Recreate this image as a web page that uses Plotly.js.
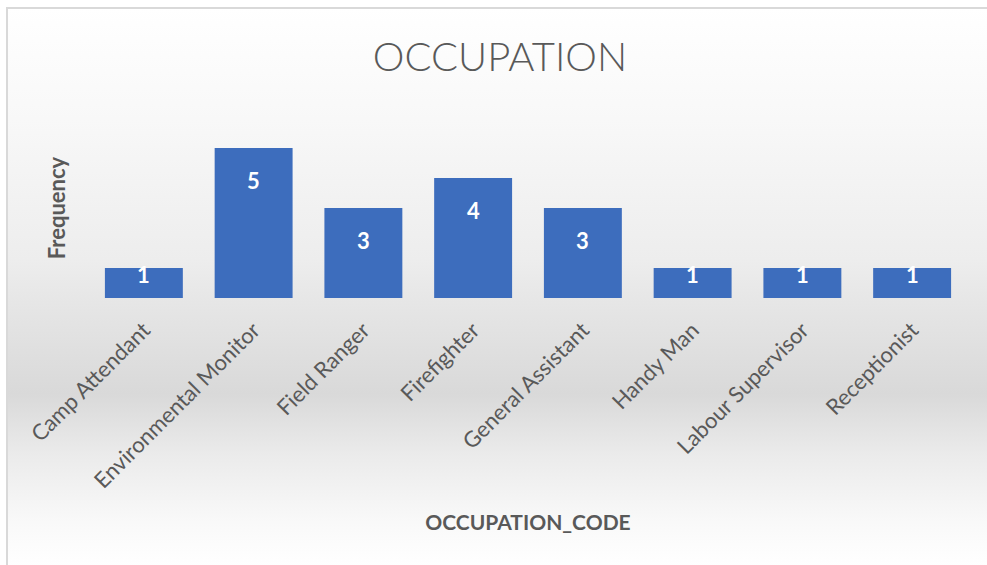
<!DOCTYPE html>
<html>
<head>
<meta charset="utf-8">
<script src="https://cdn.plot.ly/plotly-3.0.1.min.js"></script>
<style>html,body{margin:0;padding:0;background:#fff;}#chart{width:987px;height:565px;}</style>
</head>
<body>
<div id="chart"></div>
<script>
// ---- data ----
const categories = ["Camp Attendant", "Environmental Monitor", "Field Ranger", "Firefighter",
                    "General Assistant", "Handy Man", "Labour Supervisor", "Receptionist"];
const frequency = [1, 5, 3, 4, 3, 1, 1, 1];
const chartTitle = "OCCUPATION";
const xTitle = "OCCUPATION_CODE";
const yTitle = "Frequency";

// ---- layout geometry ----
const W = 987, H = 565;
const M = {l: 89, r: 20, t: 118, b: 267};
const yMax = 6;
const plotW = W - M.l - M.r, plotH = H - M.t - M.b;
const pxPerUnit = plotH / yMax;
const toPX = px => (px - M.l) / plotW;          // pixel x -> paper x
const toPY = py => (H - M.b - py) / plotH;      // pixel y -> paper y

// background gradient (Excel style) as an SVG image
const bgSvg = `<svg xmlns="http://www.w3.org/2000/svg" width="980" height="557" preserveAspectRatio="none">
<defs><linearGradient id="g" x1="0" y1="0" x2="0" y2="1">
<stop offset="0" stop-color="#ffffff"/>
<stop offset="0.2" stop-color="#f8f8f8"/>
<stop offset="0.45" stop-color="#ededed"/>
<stop offset="0.54" stop-color="#e5e5e5"/>
<stop offset="0.69" stop-color="#d9d9d9"/>
<stop offset="0.8" stop-color="#ebebeb"/>
<stop offset="0.92" stop-color="#f9f9f9"/>
<stop offset="1" stop-color="#ffffff"/>
</linearGradient></defs>
<rect x="0" y="0" width="980" height="557" fill="url(#g)"/></svg>`;
const bgURI = "data:image/svg+xml;base64," + btoa(bgSvg);

const barTrace = {
  type: "bar",
  x: categories,
  y: frequency,
  marker: {color: "#3d6dbd", line: {width: 0}},
  hoverinfo: "x+y",
  showlegend: false
};

const FONT = "Lato, 'Open Sans', sans-serif";

const labelAnnotations = categories.map((c, i) => ({
  x: c, y: frequency[i], xref: "x", yref: "y",
  text: String(frequency[i]),
  showarrow: false,
  yanchor: "middle",
  yshift: -Math.min(32, frequency[i] * pxPerUnit - 24),
  font: {family: FONT, size: 22, color: "#ffffff", weight: "bold"}
}));

const layout = {
  width: W, height: H,
  margin: M,
  paper_bgcolor: "#ffffff",
  plot_bgcolor: "rgba(0,0,0,0)",
  bargap: 0.29,
  title: {
    text: chartTitle,
    x: 500 / W, xref: "container", xanchor: "center",
    y: 1 - 57 / H, yref: "container", yanchor: "middle",
    font: {family: FONT, size: 40, color: "#595959", weight: 300}
  },
  xaxis: {
    type: "category",
    range: [-0.5, categories.length - 0.5],
    tickangle: -45,
    showgrid: false, zeroline: false, showline: false, ticks: "",
    ticklabelstandoff: 14,
    tickfont: {family: FONT, size: 22, color: "#595959"},
    automargin: false,
    title: {
      text: xTitle, standoff: 23,
      font: {family: FONT, size: 21, color: "#595959", weight: "bold"}
    }
  },
  yaxis: {
    range: [0, yMax],
    showticklabels: false, showgrid: false, zeroline: false, showline: false, ticks: "",
    automargin: false,
    title: {
      text: yTitle, standoff: 16,
      font: {family: FONT, size: 22, color: "#595959", weight: "bold"}
    }
  },
  images: [{
    source: bgURI, xref: "paper", yref: "paper",
    x: toPX(7), y: toPY(8), sizex: toPX(W + 2) - toPX(7), sizey: toPY(8) - toPY(H + 2),
    xanchor: "left", yanchor: "top", sizing: "stretch", layer: "below"
  }],
  shapes: [{
    type: "path", xref: "paper", yref: "paper",
    path: `M ${toPX(7)} ${toPY(H + 5)} L ${toPX(7)} ${toPY(8)} L ${toPX(W + 5)} ${toPY(8)}`,
    line: {color: "#d9d9d9", width: 2}, layer: "above"
  }],
  annotations: labelAnnotations
};

Plotly.newPlot("chart", [barTrace], layout, {displayModeBar: false, staticPlot: true});
</script>
</body>
</html>
